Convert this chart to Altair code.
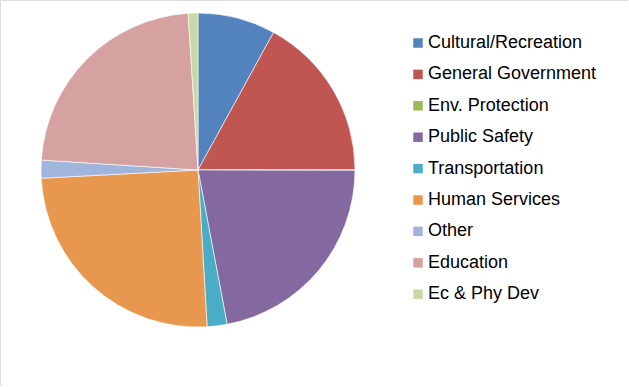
import altair as alt
import pandas as pd

categories = ["Cultural/Recreation", "General Government", "Env. Protection", "Public Safety",
              "Transportation", "Human Services", "Other", "Education", "Ec & Phy Dev"]
values = [8.0, 17.0, 0.05, 22.0, 2.05, 25.1, 1.85, 23.0, 1.0]
colors = ["#5283BC", "#BF5652", "#9BBB59", "#8468A0", "#4BACC6", "#E8974E",
          "#A0B5DC", "#D5A2A1", "#C8D9A4"]

df = pd.DataFrame({"category": categories, "value": values, "order": list(range(len(categories)))})

chart = alt.Chart(df).mark_arc(radius=157, stroke="white", strokeWidth=0.6).encode(
    theta=alt.Theta("value:Q", stack=True),
    order=alt.Order("order:Q"),
    color=alt.Color("category:N",
                    scale=alt.Scale(domain=categories, range=colors),
                    sort=categories,
                    legend=alt.Legend(title=None, orient="none", legendX=409, legendY=34,
                                      symbolType="square", symbolSize=90, symbolStrokeWidth=0,
                                      labelFont="Liberation Sans", labelFontSize=18,
                                      labelColor="#000000", labelOffset=1, rowPadding=13.4,
                                      padding=0, labelLimit=300)),
    x=alt.value(198),
    y=alt.value(170),
).properties(
    width=628, height=386,
    autosize=alt.AutoSizeParams(type="none"),
    padding=0,
).configure_view(stroke=None).configure(background="white")

chart.save("out.html", embed_options={"renderer": "svg", "actions": False})
